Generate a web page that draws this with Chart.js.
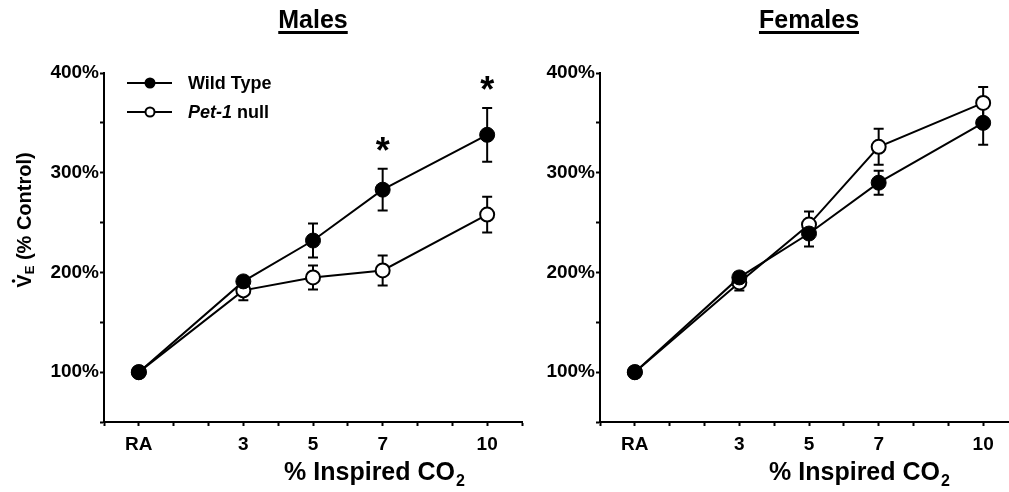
<!DOCTYPE html>
<html>
<head>
<meta charset="utf-8">
<script src="https://cdn.jsdelivr.net/npm/chart.js@4.4.0/dist/chart.umd.min.js"></script>
<style>
  html, body { margin: 0; padding: 0; background: #fff; overflow: hidden; }
  #wrap { position: relative; width: 1009px; height: 492px; overflow: hidden; }
  .panel { position: absolute; top: 0; width: 540px; height: 492px; }
</style>
</head>
<body>
<div id="wrap">
  <div class="panel" style="left:0"><canvas id="males" width="540" height="492"></canvas></div>
  <div class="panel" style="left:496px"><canvas id="females" width="540" height="492"></canvas></div>
</div>
<script>
// x positions (% inspired CO2, RA = room air) and their tick labels
const co2Levels = [0, 3, 5, 7, 10];
const co2Labels = ['RA', '3', '5', '7', '10'];

// Males, VE as % of control, mean and SEM
const malesWT = [100, 191, 232, 283, 338];
const malesWTErr = [0, 4, 17, 21, 27];
const malesNull = [100, 182, 195, 202, 258];
const malesNullErr = [0, 10, 12, 15, 18];
const malesSignificant = [3, 4]; // indices marked with *

// Females
const femalesWT = [100, 195, 239, 290, 350];
const femalesWTErr = [0, 5, 13, 12, 22];
const femalesNull = [100, 190, 248, 326, 370];
const femalesNullErr = [0, 8, 13, 18, 16];

const FONT = "'Liberation Sans', Arial, sans-serif";

// error bars drawn under the markers
const errorBars = {
  id: 'errorBars',
  beforeDatasetsDraw(chart) {
    const { ctx, scales: { x, y } } = chart;
    ctx.save();
    ctx.strokeStyle = '#000';
    ctx.lineWidth = 2;
    chart.data.datasets.forEach(ds => {
      ds.data.forEach((p, i) => {
        const e = ds.errors[i];
        if (!e) return;
        const px = x.getPixelForValue(p.x);
        const top = y.getPixelForValue(p.y + e);
        const bot = y.getPixelForValue(p.y - e);
        ctx.beginPath();
        ctx.moveTo(px, top); ctx.lineTo(px, bot);
        ctx.moveTo(px - 5, top); ctx.lineTo(px + 5, top);
        ctx.moveTo(px - 5, bot); ctx.lineTo(px + 5, bot);
        ctx.stroke();
      });
    });
    ctx.restore();
  }
};

// titles, axis titles, legend and asterisks
const decor = {
  id: 'decor',
  afterDraw(chart, args, opts) {
    const { ctx, chartArea } = chart;
    ctx.save();
    ctx.fillStyle = '#000';
    ctx.strokeStyle = '#000';

    // panel title, underlined
    ctx.font = 'bold 25px ' + FONT;
    ctx.textBaseline = 'alphabetic';
    const cx = (chartArea.left + chartArea.right) / 2;
    const tw = ctx.measureText(opts.title).width;
    ctx.fillText(opts.title, cx - tw / 2, 28);
    ctx.fillRect(cx - tw / 2, 31, tw, 3);

    // x axis title with subscript 2
    ctx.font = 'bold 25px ' + FONT;
    const main = '% Inspired CO';
    const mw = ctx.measureText(main).width;
    ctx.font = 'bold 16px ' + FONT;
    const sw = ctx.measureText('2').width;
    const sx = opts.xTitleCenter - (mw + sw) / 2;
    ctx.font = 'bold 25px ' + FONT;
    ctx.fillText(main, sx, 480);
    ctx.font = 'bold 16px ' + FONT;
    ctx.fillText('2', sx + mw + 1, 486);

    // y axis title (males only)
    if (opts.yTitle) {
      ctx.save();
      ctx.translate(31, 220);
      ctx.rotate(-Math.PI / 2);
      ctx.font = 'bold 20px ' + FONT;
      const vW = ctx.measureText('V').width;
      const rest = ' (% Control)';
      const rW = ctx.measureText(rest).width;
      ctx.font = 'bold 13px ' + FONT;
      const eW = ctx.measureText('E').width;
      const total = vW + eW + rW;
      let px = -total / 2;
      ctx.font = 'bold 20px ' + FONT;
      ctx.fillText('V', px, 0);
      ctx.beginPath();
      ctx.arc(px + vW / 2, -17.5, 1.8, 0, Math.PI * 2);
      ctx.fill();
      px += vW;
      ctx.font = 'bold 13px ' + FONT;
      ctx.fillText('E', px, 3);
      px += eW;
      ctx.font = 'bold 20px ' + FONT;
      ctx.fillText(rest, px, 0);
      ctx.restore();
    }

    // legend
    if (opts.legend) {
      const rows = [[83, '#000'], [112, '#fff']];
      rows.forEach(([ly, fill], k) => {
        ctx.lineWidth = 2;
        ctx.beginPath();
        ctx.moveTo(127, ly); ctx.lineTo(172, ly);
        ctx.stroke();
        ctx.beginPath();
        ctx.arc(150, ly, 4.5, 0, Math.PI * 2);
        ctx.fillStyle = fill;
        ctx.fill();
        ctx.stroke();
        ctx.fillStyle = '#000';
        ctx.textBaseline = 'middle';
        if (k === 0) {
          ctx.font = 'bold 18px ' + FONT;
          ctx.fillText('Wild Type', 188, ly + 1);
        } else {
          ctx.font = 'italic bold 18px ' + FONT;
          ctx.fillText('Pet-1', 188, ly + 1);
          const pw = ctx.measureText('Pet-1').width;
          ctx.font = 'bold 18px ' + FONT;
          ctx.fillText(' null', 188 + pw, ly + 1);
        }
      });
    }

    // significance asterisks above wild type error bars
    if (opts.sig) {
      const ds = chart.data.datasets[0];
      const { x, y } = chart.scales;
      ctx.font = 'bold 36px ' + FONT;
      ctx.textAlign = 'center';
      ctx.textBaseline = 'alphabetic';
      opts.sig.forEach(i => {
        const p = ds.data[i];
        const px = x.getPixelForValue(p.x);
        const py = y.getPixelForValue(p.y + ds.errors[i]) - 27;
        ctx.fillText('*', px, py + 21);
      });
    }
    ctx.restore();
  }
};

function makePanel(id, wt, wtErr, nul, nulErr, deco) {
  return new Chart(document.getElementById(id), {
    type: 'line',
    data: {
      datasets: [
        {
          label: 'Wild Type',
          data: co2Levels.map((x, i) => ({ x, y: wt[i] })),
          errors: wtErr,
          borderColor: '#000',
          borderWidth: 2,
          pointRadius: 7.5,
          pointBackgroundColor: '#000',
          pointBorderColor: '#000',
          pointBorderWidth: 1,
          tension: 0,
          fill: false
        },
        {
          label: 'Pet-1 null',
          data: co2Levels.map((x, i) => ({ x, y: nul[i] })),
          errors: nulErr,
          borderColor: '#000',
          borderWidth: 2,
          pointRadius: 7,
          pointBackgroundColor: '#fff',
          pointBorderColor: '#000',
          pointBorderWidth: 2,
          tension: 0,
          fill: false
        }
      ]
    },
    options: {
      responsive: false,
      animation: false,
      layout: { padding: { left: 0, right: 18, top: 73, bottom: 0 } },
      plugins: {
        legend: { display: false },
        tooltip: { enabled: false },
        decor: deco
      },
      scales: {
        x: {
          type: 'linear',
          min: -1,
          max: 11,
          afterFit: s => { s.height = 70; },
          border: { display: true, color: '#000', width: 2 },
          grid: { drawOnChartArea: false, drawTicks: true, tickLength: 4, tickWidth: 2, tickColor: '#000' },
          ticks: {
            stepSize: 1,
            autoSkip: false,
            maxRotation: 0,
            padding: 7,
            color: '#000',
            font: { family: FONT, size: 19, weight: 'bold' },
            callback: v => {
              const i = co2Levels.indexOf(v);
              return i >= 0 ? co2Labels[i] : '';
            }
          }
        },
        y: {
          type: 'linear',
          min: 50,
          max: 400,
          afterFit: s => { s.width = 104; },
          border: { display: true, color: '#000', width: 2 },
          grid: { drawOnChartArea: false, drawTicks: true, tickLength: 4, tickWidth: 2, tickColor: '#000' },
          ticks: {
            stepSize: 50,
            padding: 1,
            color: '#000',
            font: { family: FONT, size: 19, weight: 'bold' },
            callback: v => (v % 100 === 0 ? v + '%' : '')
          }
        }
      }
    },
    plugins: [errorBars, decor]
  });
}

makePanel('males', malesWT, malesWTErr, malesNull, malesNullErr,
  { title: 'Males', xTitleCenter: 374, yTitle: true, legend: true, sig: malesSignificant });
makePanel('females', femalesWT, femalesWTErr, femalesNull, femalesNullErr,
  { title: 'Females', xTitleCenter: 363, yTitle: false, legend: false, sig: null });
</script>
</body>
</html>
